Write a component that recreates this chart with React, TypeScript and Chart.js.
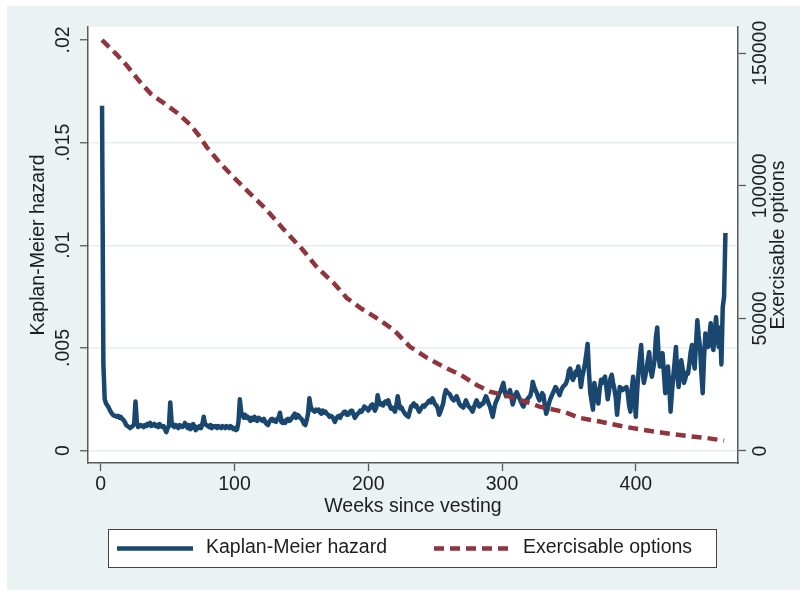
import React, { useEffect, useRef } from 'react';
import { Chart, registerables } from 'chart.js';

Chart.register(...registerables);

// ---------------- data ----------------
// Kaplan-Meier hazard, one value per week starting at week 1, in units of 1/10,000
const kmFirstWeek = 1;
const kmHazardPer10k = [
  168, 42, 25, 23, 22, 21, 19.5, 18.5, 17.5, 17,
  17, 16.5, 17, 16, 16.5, 15.5, 15, 14, 12.5, 12,
  11.5, 11, 11.5, 12, 13, 24, 14, 11.5, 12, 12.5,
  12, 11.5, 12.5, 12, 13, 12.5, 13.5, 12, 12.5, 13,
  12, 12.5, 11.5, 13, 12, 11.5, 12, 10.5, 9, 11,
  12, 23.5, 14, 12, 11.5, 12.5, 12, 11, 12.5, 12,
  11.5, 12, 13.5, 12, 11, 12.5, 10.5, 11, 13, 12,
  10, 11.5, 11, 12, 11, 13, 16.5, 13, 12.5, 12,
  11.5, 12.5, 11, 12, 11.5, 12, 11, 12, 11.5, 11,
  12, 11.5, 11, 12, 11.5, 11, 12, 11.5, 10.5, 11,
  10, 10.5, 14, 25, 19, 17, 16, 17.5, 16, 16.5,
  15.5, 14.5, 16, 15, 16.5, 15, 14.5, 16, 15.5, 15,
  14.5, 15.5, 14, 13, 12.5, 14, 15, 15.5, 14.5, 15,
  14, 15.5, 16, 18.5, 14, 13.5, 14.5, 13.5, 15, 15.5,
  14.5, 15, 16, 17, 18, 16, 17.5, 17, 16, 15.5,
  14.5, 13, 12.5, 15, 18, 25.5, 21.5, 20, 19.5, 19,
  20, 19.5, 20, 18.5, 18, 19.5, 18.5, 19, 18, 17.5,
  16.5, 17, 16.5, 15.5, 14, 15.5, 16.5, 17, 16, 17.5,
  18, 19, 19, 17.5, 17.5, 18.5, 19.5, 19.5, 17.5, 16,
  17, 18, 18.5, 19.5, 19, 20, 21.5, 21, 20.5, 19.5,
  20.5, 22, 22.5, 21, 19.5, 21, 27, 24, 22.5, 23,
  22, 23.5, 24, 23, 24.5, 22, 20.5, 21, 20, 19,
  22, 26.5, 23, 20.5, 21, 19.5, 18.5, 17.5, 17, 16.5,
  19, 21.5, 22, 23, 21.5, 22, 20.5, 19, 20, 21,
  22, 21.5, 22.5, 23, 24, 24.5, 23.5, 25.5, 24, 22.5,
  22, 20.5, 17.5, 19, 21, 23, 27, 29.5, 28.5, 28,
  27.5, 26, 25, 24.5, 25.5, 26.5, 25, 23, 22, 21.5,
  21, 22.5, 24.5, 23, 21.5, 21, 20, 19, 21, 23,
  24.5, 23, 21.5, 22, 23, 23, 25, 26.5, 25, 23,
  21.5, 19, 16.5, 20, 23, 24.5, 26, 28, 29, 31,
  33, 29, 26.5, 27, 28, 29.5, 26, 22.5, 25, 27.5,
  28.5, 27, 25.5, 24, 22.5, 21.5, 23, 24.5, 25, 26,
  26.5, 29, 33.5, 31, 29.5, 28, 26, 24.5, 26, 28,
  27, 22, 18, 20, 23, 25, 26.5, 28, 29.5, 31,
  30, 28.5, 27, 29, 30.5, 31.5, 32, 33, 35, 39,
  40, 36, 34.5, 36, 38.5, 37, 41, 37, 31, 36,
  39, 42.5, 47, 52, 38, 28, 24, 20, 33, 29,
  25, 23, 30, 34.5, 33, 35, 36, 31, 25, 29,
  35, 37, 33, 30, 26, 17.5, 24, 31, 30.5, 29.5,
  30, 30.5, 31, 28, 22, 19, 30, 36, 27, 16.5,
  29, 38, 45, 51.5, 40, 33, 36, 39.5, 44, 48,
  40, 36, 40, 44, 55, 60, 47, 41, 44, 47.5,
  38, 28, 33, 41, 32, 19, 28, 36, 43, 50.5,
  37, 31, 38, 44, 40, 33, 35, 38, 37.5, 42,
  48, 51.5, 45, 40, 52, 63.5, 56, 50.5, 38, 28,
  45, 57, 54, 50.5, 56, 62, 52, 49, 58, 65,
  55, 50.5, 60, 42, 70, 75, 106,
];

// Exercisable options (right axis), read at these weeks
const optionWeeks = [
  1, 12, 19, 29, 38, 47, 57, 67, 74, 79, 89, 99, 110, 123, 136, 151, 162, 174, 184, 194,
  206, 219, 231, 244, 256, 269, 281, 291, 306, 321, 328, 346, 358, 373, 391, 406, 420, 438, 453, 466,
];
const optionCounts = [
  155000, 149500, 145700, 139400, 134400, 131300, 127600, 123000, 118600, 114800,
  108700, 103400, 97900, 91500, 84000, 75900, 69100, 63400, 57700, 54000,
  50200, 45700, 39400, 35100, 31800, 28700, 24900, 22400, 20500, 18100,
  16700, 14800, 12500, 11100, 9200, 7900, 6900, 5700, 4900, 3900,
];

const xTickValues = [0, 100, 200, 300, 400];
const leftTickValues = [0, 0.005, 0.01, 0.015, 0.02];
const leftTickLabels = ['0', '.005', '.01', '.015', '.02'];
const rightTickValues = [0, 50000, 100000, 150000];
const rightTickLabels = ['0', '50000', '100000', '150000'];

const hazardLabel = 'Kaplan-Meier hazard';
const optionsLabel = 'Exercisable options';
const xTitle = 'Weeks since vesting';
const leftTitle = 'Kaplan-Meier hazard';
const rightTitle = 'Exercisable options';

// ---------------- styles ----------------
const FAMILY = '"Liberation Sans", Arial, Helvetica, sans-serif';
const FSIZE = 19.5;
const TEXT = '#1e1e1e';
const AXIS = '#5a5a5a';
const GRID = '#e6eef0';
const OUTER = '#eaf2f3';
const NAVY = '#1a476f';
const MAROON = '#90353b';

const stataPlugin = {
  id: 'stataLook',
  beforeDraw(chart: any) {
    const { ctx, chartArea: a } = chart;
    ctx.save();
    ctx.fillStyle = OUTER;
    ctx.fillRect(0, 0, chart.width, chart.height);
    ctx.fillStyle = '#ffffff';
    ctx.fillRect(a.left, a.top, a.right - a.left, a.bottom - a.top);
    ctx.restore();
  },
  afterDraw(chart: any) {
    const { ctx, chartArea: a } = chart;
    const y2 = chart.scales.y2;
    ctx.save();
    // right axis title (reads bottom-to-top like the left one)
    ctx.font = `${FSIZE}px ${FAMILY}`;
    ctx.fillStyle = TEXT;
    ctx.translate(y2.right - 21.5, (a.top + a.bottom) / 2);
    ctx.rotate(-Math.PI / 2);
    ctx.textAlign = 'center';
    ctx.textBaseline = 'middle';
    ctx.fillText(rightTitle, 0, 0);
    ctx.restore();

    // legend box
    const cx = (a.left + a.right) / 2;
    const boxL = Math.round(cx - 305);
    const boxR = Math.round(cx + 304);
    const boxT = Math.round(a.bottom + 66);
    const boxB = Math.round(a.bottom + 105);
    const midY = (boxT + boxB) / 2;
    ctx.save();
    ctx.fillStyle = '#ffffff';
    ctx.fillRect(boxL, boxT, boxR - boxL, boxB - boxT);
    ctx.strokeStyle = '#444444';
    ctx.lineWidth = 1;
    ctx.strokeRect(boxL + 0.5, boxT + 0.5, boxR - boxL - 1, boxB - boxT - 1);
    const items = [
      { ds: chart.data.datasets[0], lineX: boxL + 9, textX: boxL + 98 },
      { ds: chart.data.datasets[1], lineX: boxL + 326, textX: boxL + 415 },
    ];
    for (const it of items) {
      ctx.beginPath();
      ctx.strokeStyle = it.ds.borderColor;
      ctx.lineWidth = it.ds.borderWidth;
      ctx.setLineDash(it.ds.borderDash || []);
      ctx.moveTo(it.lineX, midY);
      ctx.lineTo(it.lineX + 76, midY);
      ctx.stroke();
      ctx.setLineDash([]);
      ctx.font = `${FSIZE}px ${FAMILY}`;
      ctx.fillStyle = TEXT;
      ctx.textAlign = 'left';
      ctx.textBaseline = 'middle';
      ctx.fillText(it.ds.label, it.textX, midY - 1);
    }
    ctx.restore();
  },
};

export default function App() {
  const ref = useRef<HTMLCanvasElement>(null);

  useEffect(() => {
    const canvas = ref.current;
    if (!canvas) return;
    const font = { family: FAMILY, size: FSIZE };

    const hazardPoints = kmHazardPer10k.map((v, i) => ({ x: kmFirstWeek + i, y: v / 10000 }));
    const optionPoints = optionWeeks.map((w, i) => ({ x: w, y: optionCounts[i] }));

    const chart = new Chart(canvas, {
      type: 'line',
      data: {
        datasets: [
          {
            label: hazardLabel,
            data: hazardPoints,
            borderColor: NAVY,
            backgroundColor: NAVY,
            borderWidth: 4.5,
            borderJoinStyle: 'round',
            pointRadius: 0,
            tension: 0,
            fill: false,
            yAxisID: 'y',
            order: 2,
          },
          {
            label: optionsLabel,
            data: optionPoints,
            borderColor: MAROON,
            backgroundColor: MAROON,
            borderWidth: 4.5,
            borderDash: [10, 6],
            pointRadius: 0,
            tension: 0,
            fill: false,
            yAxisID: 'y2',
            order: 1,
          },
        ],
      },
      options: {
        responsive: false,
        animation: false,
        devicePixelRatio: 1,
        layout: { padding: { top: 21, bottom: 70, left: 0, right: 0 } },
        plugins: {
          legend: { display: false },
          tooltip: { enabled: false },
        },
        scales: {
          x: {
            type: 'linear',
            position: 'bottom',
            min: -9.5,
            max: 476.4,
            afterBuildTicks: (s: any) => {
              s.ticks = xTickValues.map((v) => ({ value: v }));
            },
            afterFit: (s: any) => {
              s.height = 57;
            },
            ticks: {
              font,
              color: TEXT,
              padding: 2,
              maxRotation: 0,
              autoSkip: false,
              callback: (v: any) => String(v),
            },
            grid: {
              drawOnChartArea: false,
              tickLength: 8,
              tickColor: AXIS,
              tickWidth: 1.3,
            },
            border: { display: true, color: AXIS, width: 1.5 },
            title: {
              display: true,
              text: xTitle,
              font,
              color: TEXT,
              padding: { top: 0, bottom: 2 },
            },
          },
          y: {
            type: 'linear',
            position: 'left',
            min: -0.0006,
            max: 0.02063,
            afterBuildTicks: (s: any) => {
              s.ticks = leftTickValues.map((v) => ({ value: v }));
            },
            afterFit: (s: any) => {
              s.width = 81;
            },
            ticks: {
              font,
              color: TEXT,
              minRotation: 90,
              maxRotation: 90,
              crossAlign: 'center',
              padding: -2.5,
              autoSkip: false,
              callback: (_v: any, i: number) => leftTickLabels[i],
            },
            grid: {
              color: (c: any) => (c.tick && c.tick.value >= 0.02 ? 'rgba(0,0,0,0)' : GRID),
              lineWidth: 1.5,
              tickLength: 8,
              tickColor: AXIS,
              tickWidth: 1.3,
            },
            border: { display: true, color: AXIS, width: 1.5 },
            title: {
              display: true,
              text: leftTitle,
              font,
              color: TEXT,
              padding: { top: 20, bottom: 0 },
            },
          },
          y2: {
            type: 'linear',
            position: 'right',
            min: -4530,
            max: 159900,
            afterBuildTicks: (s: any) => {
              s.ticks = rightTickValues.map((v) => ({ value: v }));
            },
            afterFit: (s: any) => {
              s.width = 62;
            },
            ticks: {
              font,
              color: TEXT,
              minRotation: 90,
              maxRotation: 90,
              crossAlign: 'center',
              padding: -17.7,
              autoSkip: false,
              callback: (_v: any, i: number) => rightTickLabels[i],
            },
            grid: {
              drawOnChartArea: false,
              tickLength: 8,
              tickColor: AXIS,
              tickWidth: 1.3,
            },
            border: { display: true, color: AXIS, width: 1.5 },
            title: { display: false },
          },
        },
      } as any,
      plugins: [stataPlugin],
    });

    return () => chart.destroy();
  }, []);

  return (
    <div style={{ position: 'absolute', left: 7, top: 6, width: 793, height: 584, background: OUTER }}>
      <canvas ref={ref} width={793} height={584} style={{ display: 'block', width: 793, height: 584 }} />
    </div>
  );
}
